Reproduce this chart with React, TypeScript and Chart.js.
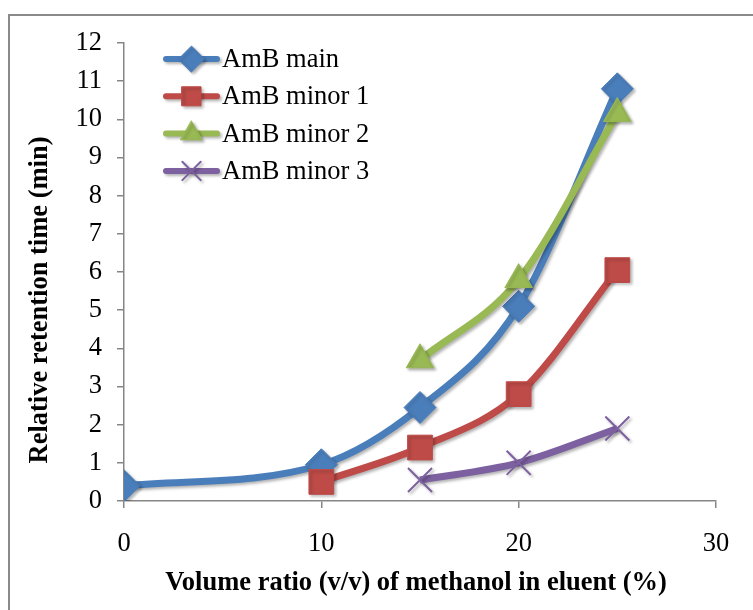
import { useEffect, useRef } from "react";
import { Chart, registerables } from "chart.js";
import { drawPoint } from "chart.js/helpers";

Chart.register(...registerables);

const seriesNames = ["AmB main", "AmB minor 1", "AmB minor 2", "AmB minor 3"];
const xMain = [0, 10, 15, 20, 25];
const yMain = [0.4, 0.95, 2.45, 5.1, 10.8];
const xMinor1 = [10, 15, 20, 25];
const yMinor1 = [0.5, 1.4, 2.8, 6.05];
const xMinor2 = [15, 20, 25];
const yMinor2 = [3.7, 5.8, 10.15];
const xMinor3 = [15, 20, 25];
const yMinor3 = [0.55, 1.0, 1.9];
const xTickValues = [0, 10, 20, 30];
const yTickValues = [0, 1, 2, 3, 4, 5, 6, 7, 8, 9, 10, 11, 12];
const xTitle = "Volume ratio (v/v) of methanol in eluent (%)";
const yTitle = "Relative retention time (min)";

const colors = ["#4A7EBB", "#BE4B48", "#98B954", "#7D60A0"];
const pointStyles = ["rectRot", "rect", "triangle", "crossRot"];
const pointRadii = [16, 17.5, 16, 17];
const legendRadii = [13, 13.5, 12.5, 13];
const pointBorders = [1, 1, 1, 2];

const FONT = "'Liberation Serif', 'Times New Roman', serif";
const FS = 26.5;
const AXIS_GRAY = "#868686";

const zip = (xs: number[], ys: number[]) => xs.map((x, i) => ({ x, y: ys[i] }));

const setShadow = (ctx: CanvasRenderingContext2D) => {
  ctx.shadowColor = "rgba(0,0,0,0.3)";
  ctx.shadowBlur = 3;
  ctx.shadowOffsetX = 2;
  ctx.shadowOffsetY = 2;
};

const decorPlugin = {
  id: "decor",
  beforeDraw(chart: any) {
    const ctx = chart.ctx as CanvasRenderingContext2D;
    ctx.save();
    ctx.strokeStyle = "#8a8a8a";
    ctx.lineWidth = 2;
    ctx.beginPath();
    ctx.moveTo(9, chart.height);
    ctx.lineTo(9, 15);
    ctx.lineTo(chart.width, 15);
    ctx.stroke();
    ctx.restore();
  },
  beforeDatasetsDraw(chart: any) {
    const ctx = chart.ctx as CanvasRenderingContext2D;
    ctx.save();
    setShadow(ctx);
  },
  afterDatasetsDraw(chart: any) {
    chart.ctx.restore();
  },
  afterDraw(chart: any) {
    const ctx = chart.ctx as CanvasRenderingContext2D;
    const area = chart.chartArea;
    // axis titles
    ctx.save();
    ctx.fillStyle = "#000";
    ctx.font = `bold ${FS}px ${FONT}`;
    ctx.textAlign = "center";
    ctx.textBaseline = "middle";
    ctx.fillText(xTitle, (area.left + area.right) / 2 - 4, 583);
    ctx.translate(40, (area.top + area.bottom) / 2 + 28);
    ctx.rotate(-Math.PI / 2);
    ctx.fillText(yTitle, 0, 0);
    ctx.restore();

    // legend
    chart.data.datasets.forEach((d: any, i: number) => {
      const y = area.top + 16 + i * 37.3;
      const x0 = area.left + 42;
      const x1 = area.left + 93;
      ctx.save();
      setShadow(ctx);
      ctx.strokeStyle = d.borderColor;
      ctx.lineWidth = 6;
      ctx.lineCap = "round";
      ctx.beginPath();
      ctx.moveTo(x0, y);
      ctx.lineTo(x1, y);
      ctx.stroke();
      ctx.fillStyle = d.pointBackgroundColor;
      ctx.strokeStyle = d.pointBorderColor;
      ctx.lineWidth = d.pointBorderWidth;
      drawPoint(
        ctx,
        { pointStyle: d.pointStyle, radius: legendRadii[i], rotation: 0, borderWidth: d.pointBorderWidth } as any,
        (x0 + x1) / 2,
        y
      );
      ctx.restore();
      ctx.save();
      ctx.fillStyle = "#000";
      ctx.font = `${FS}px ${FONT}`;
      ctx.textAlign = "left";
      ctx.textBaseline = "middle";
      ctx.fillText(seriesNames[i], x1 + 5, y + 1);
      ctx.restore();
    });
  },
};

export default function App() {
  const ref = useRef<HTMLCanvasElement | null>(null);
  useEffect(() => {
    if (!ref.current) return;
    const seriesData = [
      zip(xMain, yMain),
      zip(xMinor1, yMinor1),
      zip(xMinor2, yMinor2),
      zip(xMinor3, yMinor3),
    ];
    const chart = new Chart(ref.current, {
      type: "scatter",
      data: {
        datasets: seriesData.map((data, i) => ({
          label: seriesNames[i],
          data,
          showLine: true,
          borderColor: colors[i],
          backgroundColor: colors[i],
          borderWidth: 7,
          cubicInterpolationMode: "monotone",
          tension: 0.4,
          pointStyle: pointStyles[i] as any,
          pointRadius: pointRadii[i],
          pointHoverRadius: pointRadii[i],
          pointBackgroundColor: colors[i],
          pointBorderColor: colors[i],
          pointBorderWidth: pointBorders[i],
          order: 4 - i,
        })),
      },
      options: {
        responsive: false,
        animation: false,
        events: [],
        layout: { padding: { left: 0, right: 37, top: 43, bottom: 0 } },
        plugins: {
          legend: { display: false },
          tooltip: { enabled: false },
          title: { display: false },
        },
        scales: {
          x: {
            type: "linear",
            min: 0,
            max: 30,
            afterFit: (s: any) => {
              s.height = 109;
            },
            afterBuildTicks: (s: any) => {
              s.ticks = xTickValues.map((v) => ({ value: v }));
            },
            grid: { drawOnChartArea: false, drawTicks: true, tickLength: 7, color: AXIS_GRAY, lineWidth: 1.5 },
            border: { color: AXIS_GRAY, width: 1.5 },
            ticks: { color: "#000", font: { family: FONT, size: FS }, padding: 20, maxRotation: 0 },
          },
          y: {
            type: "linear",
            min: 0,
            max: 12,
            afterFit: (s: any) => {
              s.width = 124;
            },
            afterBuildTicks: (s: any) => {
              s.ticks = yTickValues.map((v) => ({ value: v }));
            },
            grid: { drawOnChartArea: false, drawTicks: true, tickLength: 7, color: AXIS_GRAY, lineWidth: 1.5 },
            border: { color: AXIS_GRAY, width: 1.5 },
            ticks: { color: "#000", font: { family: FONT, size: FS }, padding: 15 },
          },
        },
      },
      plugins: [decorPlugin],
    });
    return () => chart.destroy();
  }, []);
  return (
    <div style={{ position: "absolute", left: 0, top: 0, width: 753, height: 610, background: "#fff" }}>
      <canvas ref={ref} width={753} height={610} style={{ display: "block" }} />
    </div>
  );
}
